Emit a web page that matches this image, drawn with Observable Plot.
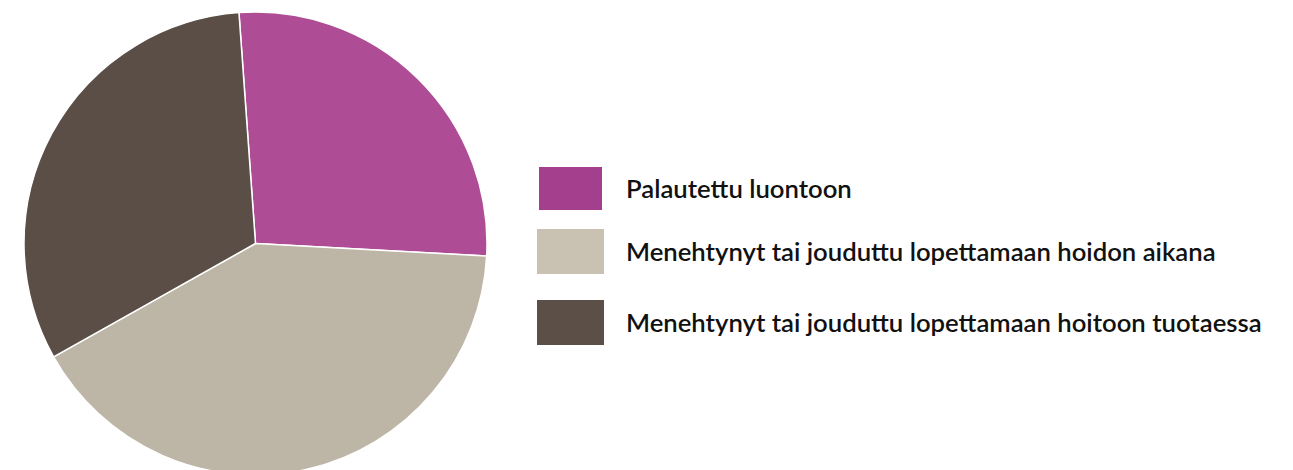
<!DOCTYPE html>
<html>
<head>
<meta charset="utf-8">
<script src="https://cdn.jsdelivr.net/npm/d3@7"></script>
<script src="https://cdn.jsdelivr.net/npm/@observablehq/plot@0.6"></script>
<style>
  html, body { margin: 0; padding: 0; background: #fff; }
  #wrap { position: relative; width: 1293px; height: 470px; overflow: hidden; }
  #legend { position: absolute; left: 0; top: 0; font-family: Lato, "Open Sans", sans-serif; font-weight: 600; font-size: 25.7px; color: #111; }
  .row { position: absolute; display: flex; align-items: center; white-space: nowrap; }
  .sw { flex: none; }
  .lbl { position: absolute; left: 626px; white-space: nowrap; }
</style>
</head>
<body>
<div id="wrap"><div id="chart"></div><div id="legend"></div></div>
<script>
const categories = [
  "Palautettu luontoon",
  "Menehtynyt tai jouduttu lopettamaan hoidon aikana",
  "Menehtynyt tai jouduttu lopettamaan hoitoon tuotaessa"
];
const values = [27, 41, 32];
const pieColors = ["#ae4c95", "#bdb6a6", "#5b4e46"];
const legendColors = ["#a43f8e", "#c9c1b1", "#5b4f47"];

const data = categories.map((c, i) => ({category: c, value: values[i]}));
const startAngle = -4.1 * Math.PI / 180;
const radius = 231.5;

const pieMark = (index, scales, vals, dimensions) => {
  const {marginLeft, marginTop} = dimensions;
  const cx = marginLeft + radius, cy = marginTop + radius;
  const arcs = d3.pie().sort(null).value(d => d.value)
    .startAngle(startAngle).endAngle(startAngle + 2 * Math.PI)(data);
  const arc = d3.arc().innerRadius(0).outerRadius(radius);
  const g = d3.create("svg:g").attr("transform", `translate(${cx},${cy})`);
  g.selectAll("path").data(arcs).join("path")
    .attr("d", arc)
    .attr("fill", (d, i) => pieColors[i])
    .attr("stroke", "#fff")
    .attr("stroke-width", 1.5)
    .attr("stroke-linejoin", "round");
  return g.node();
};

const chart = Plot.plot({
  width: 1293,
  height: 470,
  marginLeft: 24,
  marginTop: 12,
  marginRight: 0,
  marginBottom: 0,
  color: {domain: categories, range: pieColors},
  marks: [pieMark]
});
document.getElementById("chart").append(chart);

// legend layout (styles only)
const swatchBoxes = [
  {left: 539, top: 167, w: 63, h: 43},
  {left: 537, top: 229, w: 67, h: 45},
  {left: 537, top: 300, w: 67, h: 45}
];
const legend = d3.select("#legend");
categories.forEach((c, i) => {
  const b = swatchBoxes[i];
  legend.append("div").attr("class", "sw")
    .style("position", "absolute")
    .style("left", b.left + "px").style("top", b.top + "px")
    .style("width", b.w + "px").style("height", b.h + "px")
    .style("background", legendColors[i]);
  legend.append("div").attr("class", "lbl")
    .style("top", (b.top + b.h / 2 - 16) + "px")
    .style("line-height", "30px")
    .text(c);
});
</script>
</body>
</html>
